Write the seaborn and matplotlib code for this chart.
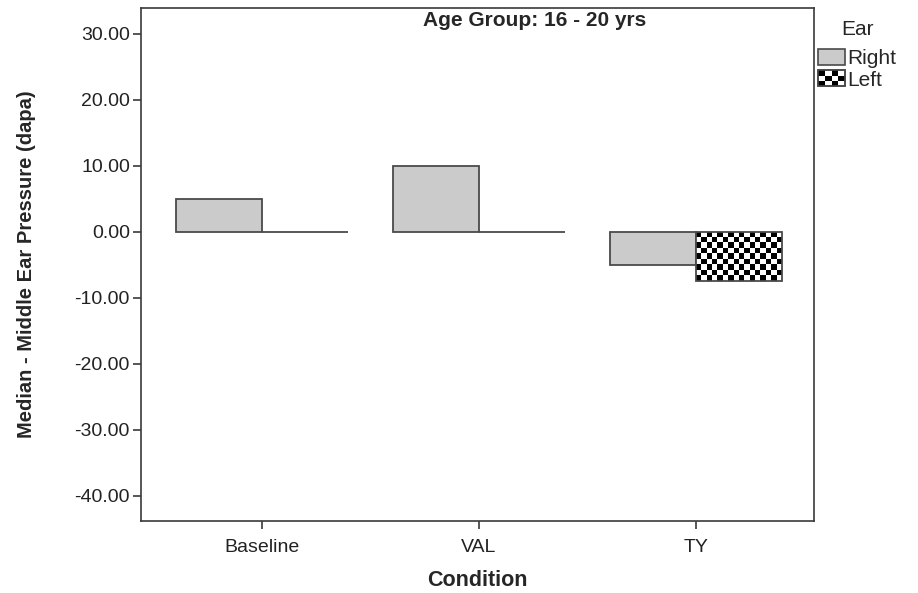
import numpy as np
import pandas as pd
import matplotlib
matplotlib.use('Agg')
import matplotlib.pyplot as plt
import matplotlib.patches as mpatches
from matplotlib.legend_handler import HandlerBase
import seaborn as sns

# data
conditions = ['Baseline', 'VAL', 'TY']
ears = ['Right', 'Left']
right_values = [5.0, 10.0, -5.0]
left_values = [0.0, 0.0, -7.5]
yticks = [30, 20, 10, 0, -10, -20, -30, -40]

data = pd.DataFrame({
    'Condition': conditions * 2,
    'Ear': ['Right'] * 3 + ['Left'] * 3,
    'Pressure': right_values + left_values,
})

sns.set_style('white')
plt.rcParams['font.family'] = ['Liberation Sans', 'DejaVu Sans']

edge = '#4a4a4a'
grey = '#cbcbcb'

fig = plt.figure(figsize=(9.18, 5.93), dpi=100)
ax = fig.add_axes([0.1536, 0.1214, 0.7331, 0.8651])

sns.barplot(data=data, x='Condition', y='Pressure', hue='Ear', order=conditions,
            hue_order=ears, palette={'Right': grey, 'Left': 'white'},
            width=0.79, edgecolor=edge, linewidth=1.3, legend=False, ax=ax)

# checkerboard fill for the Left bars
for bar in ax.containers[1]:
    h = bar.get_height()
    if h == 0:
        continue
    x0, w = bar.get_x(), bar.get_width()
    y0, y1 = sorted([bar.get_y(), bar.get_y() + h])
    img = np.indices((9, 16)).sum(axis=0) % 2
    im = ax.imshow(img, cmap='gray', extent=(x0, x0 + w, y0, y1), aspect='auto',
                   interpolation='nearest', zorder=bar.get_zorder() + 0.1)
    im.set_clip_path(bar)
    bar.set_facecolor('none')
    bar.set_zorder(bar.get_zorder() + 0.2)

ax.set_xlim(-0.558, 2.544)
ax.set_ylim(-43.8, 33.9)
ax.set_yticks(yticks)
ax.set_yticklabels([f'{v:.2f}' for v in yticks])

for s in ax.spines.values():
    s.set_visible(True)
    s.set_color('#3a3a3a')
    s.set_linewidth(1.2)

ax.tick_params(axis='both', which='both', direction='out', length=6, width=1.2,
               color='#3a3a3a', labelsize=14, labelcolor='#222222',
               left=True, bottom=True, top=False, right=False, pad=2)
ax.tick_params(axis='x', pad=7)

ax.set_xlabel('Condition', fontsize=15.5, fontweight='bold', labelpad=10)
ax.set_ylabel('Median - Middle Ear Pressure (dapa)', fontsize=14.5, fontweight='bold',
              labelpad=28)

ax.text(0.585, 0.994, 'Age Group: 16 - 20 yrs', transform=ax.transAxes,
        ha='center', va='top', fontsize=15, fontweight='bold')


class CheckerHandler(HandlerBase):
    def create_artists(self, legend, orig_handle, xdescent, ydescent,
                       width, height, fontsize, trans):
        arts = [mpatches.Rectangle((-xdescent, -ydescent), width, height,
                                   facecolor='white', edgecolor=edge, lw=1.2,
                                   transform=trans)]
        nx, ny = 4, 3
        cw, ch = width / nx, height / ny
        for i in range(nx):
            for j in range(ny):
                if (i + j) % 2 == 0:
                    arts.append(mpatches.Rectangle((-xdescent + i * cw, -ydescent + j * ch),
                                                   cw, ch, facecolor='black',
                                                   edgecolor='none', transform=trans))
        arts.append(mpatches.Rectangle((-xdescent, -ydescent), width, height,
                                       facecolor='none', edgecolor=edge, lw=1.2,
                                       transform=trans))
        return arts


h_right = mpatches.Patch(facecolor=grey, edgecolor=edge, lw=1.2)
h_left = mpatches.Patch(facecolor='white', edgecolor=edge)
leg = ax.legend([h_right, h_left], ears, title='Ear', loc='upper left',
                bbox_to_anchor=(1.0, 0.985), frameon=False, fontsize=15,
                title_fontsize=15, handlelength=1.3, handleheight=0.8,
                handletextpad=0.1, labelspacing=0.12, borderaxespad=0.1,
                borderpad=0.1, handler_map={h_left: CheckerHandler()})
leg._legend_box.align = 'center'
leg._legend_box.sep = 7

fig.savefig('out.png', dpi=100)
